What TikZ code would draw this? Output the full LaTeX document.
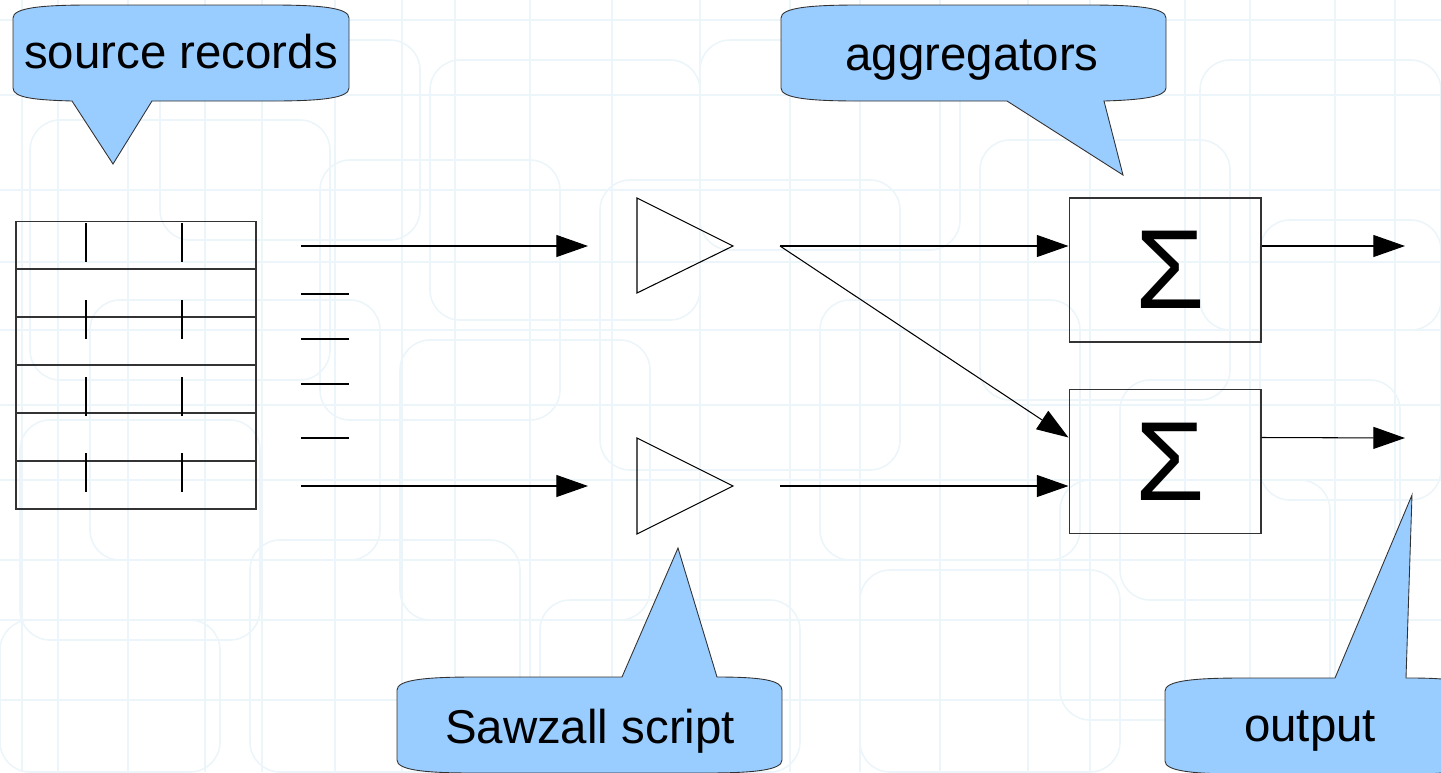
\documentclass[tikz,border=0pt]{standalone}
\usepackage{fontspec}
\setmainfont{Liberation Sans}
\usetikzlibrary{arrows.meta,calc}

\begin{document}
\begin{tikzpicture}[x=0.02cm, y=-0.02cm, line width=0.6pt]
	% Defines colors to match the image
	\definecolor{calloutfill}{RGB}{153, 204, 255} % Light blue callouts
	\definecolor{calloutline}{RGB}{50, 50, 50}    % Dark outline of callouts
	\definecolor{texture}{RGB}{236, 245, 249}     % Faint background pattern
	\tikzset{
		flow/.style={-{Triangle[length=18pt, width=12.5pt]}},
		bubble/.style={fill=calloutfill, draw=calloutline, line width=0.5pt},
		bubbletext/.style={font=\fontsize{27}{27}\selectfont, anchor=base},
		sumbox/.style={draw=black!80, minimum width=3.84cm, minimum height=2.88cm, inner sep=0pt, font=\fontsize{64}{64}\selectfont}
	}
	\useasboundingbox (0,0) rectangle (1441,772);
	
	% --- Background ---
	% Faint grid of lines and rounded rectangles
	\begin{scope}[draw=texture, line width=0.9pt]
		\foreach \x in {22, 58, 128, 205, 262, 335, 402, 455, 530, 612, 700, 790, 860, 940, 1028, 1090, 1185, 1250, 1335, 1395}
			\draw (\x,0) -- (\x,772);
		\foreach \y in {20, 95, 190, 262, 330, 405, 480, 560, 620, 700}
			\draw (0,\y) -- (1441,\y);
		\begin{scope}[rounded corners=0.6cm]
			\foreach \xa/\ya/\xb/\yb in {30/120/330/380, 90/300/380/560, 160/40/420/240, 400/340/650/620,
				430/60/700/320, 250/540/520/772, 600/180/900/470, 700/40/960/250, 820/300/1080/560,
				860/570/1120/772, 980/140/1230/400, 1060/480/1330/720, 1200/60/1441/330, 1260/220/1441/500,
				0/620/220/772, 540/600/800/772, 20/420/260/640, 1120/380/1400/600, 320/160/560/420}
				\draw (\xa,\ya) rectangle (\xb,\yb);
		\end{scope}
	\end{scope}
	
	% --- Source records ---
	\node[draw=black!80, minimum width=4.8cm, minimum height=5.76cm, inner sep=0pt] (records) at (136,365) {};
	\foreach \y in {269, 317, 365, 413, 461}
		\draw[black!80] (records.west |- 0,\y) -- (records.east |- 0,\y);
	\foreach \y in {223, 300, 377, 453}
		\foreach \x in {86, 182}
			\draw (\x,\y) -- (\x,\y+39);
	% short record pieces
	\foreach \y in {294, 339, 384, 438}
		\draw (301,\y) -- (349,\y);
	
	% --- Sawzall scripts ---
	\coordinate (src1) at (301,246);
	\coordinate (src2) at (301,486);
	\coordinate (in1) at (588,246);
	\coordinate (in2) at (588,486);
	\draw (637,198) -- (733,246) -- (637,293) -- cycle;
	\draw (637,438) -- (733,486) -- (637,534) -- cycle;
	\coordinate (out1) at (780,246);
	\coordinate (out2) at (780,486);
	
	% --- Aggregators ---
	\node[sumbox] (agg1) at (1165,270) {\hspace{0.2cm}Σ};
	\node[sumbox] (agg2) at (1165,461.5) {\hspace{0.2cm}Σ};
	\coordinate (res1) at (1405,246);
	\coordinate (res2) at (1405,438);
	
	% --- Connectors ---
	\draw[flow] (src1) -- (in1);
	\draw[flow] (src2) -- (in2);
	\draw[flow] (out1) -- (agg1.west |- out1);
	\draw[flow] (out1) -- ($(agg2.west)+(0,-24)$);
	\draw[flow] (out2) -- (agg2.west |- out2);
	\draw[flow] ($(agg1.east)+(0,-24)$) -- (res1);
	\draw[flow] ($(agg2.east)+(0,-24)$) -- (res2);
	
	% --- Callouts ---
	\draw[bubble] (13,18) .. controls (13,8) and (40,5) .. (90,5) -- (272,5)
		.. controls (322,5) and (349,8) .. (349,18) -- (349,88)
		.. controls (349,98) and (322,101) .. (272,101) -- (152,101) -- (113,164) -- (72,101)
		.. controls (36,100) and (13,98) .. (13,88) -- cycle;
	\node[bubbletext] (recordslabel) at (181,68) {source records};
	
	\draw[bubble] (781,18) .. controls (781,8) and (808,5) .. (858,5) -- (1089,5)
		.. controls (1139,5) and (1166,8) .. (1166,18) -- (1166,88)
		.. controls (1166,97) and (1140,100) .. (1104,101) -- (1123,175) -- (1007,101) -- (858,101)
		.. controls (808,101) and (781,98) .. (781,88) -- cycle;
	\node[bubbletext] (agglabel) at (972,70) {aggregators};
	
	\draw[bubble] (397,690) .. controls (397,680) and (424,677) .. (474,677) -- (622,677) -- (678,548) -- (717,677)
		.. controls (760,677) and (782,680) .. (782,690) -- (782,760)
		.. controls (782,770) and (755,773) .. (705,773) -- (474,773)
		.. controls (424,773) and (397,770) .. (397,760) -- cycle;
	\node[bubbletext] (scriptlabel) at (590,743) {Sawzall script};
	
	\draw[bubble] (1165,691) .. controls (1165,681) and (1192,678) .. (1242,678) -- (1335,678) -- (1412,495) -- (1406,678) -- (1410,678)
		.. controls (1450,678) and (1470,681) .. (1470,691) -- (1470,761)
		.. controls (1470,771) and (1450,774) .. (1410,774) -- (1242,774)
		.. controls (1192,774) and (1165,771) .. (1165,761) -- cycle;
	\node[bubbletext] (outlabel) at (1310,741) {output};
	
\end{tikzpicture}
\end{document}
